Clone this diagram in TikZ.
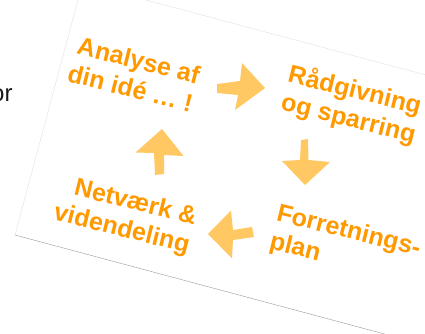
\documentclass[tikz,border=0pt]{standalone}
\usepackage{fontspec}
\setmainfont{Liberation Sans}
\definecolor{textorange}{HTML}{FF9900}
\definecolor{arrowfill}{HTML}{FFC863}
\tikzset{
	steptext/.style={text=textorange, font=\bfseries\fontsize{25}{29}\selectfont, rotate=-14, inner sep=0pt},
	cyclearrow/.style={fill=arrowfill},
}

\begin{document}
\begin{tikzpicture}[x=1pt,y=-1pt]
		\useasboundingbox (0,0) rectangle (425,333);
		\clip (0,0) rectangle (425,333);
		\node[anchor=base east, font=\fontsize{24}{28}\selectfont, text=black!90, inner sep=0pt] (or) at (12.7,101) {or};
		% the tilted card
		\coordinate (TL) at (82.5,-17);
		\coordinate (BL) at (15,235);
		\coordinate (BR) at (478.6,359.2);
		\coordinate (TR) at (546.1,107.2);
		\fill [white] (TL) -- (BL) -- (BR) -- (TR) -- cycle;
		\draw [black!12, line width=0.4pt] (TL) -- (BL);
		\draw [black!40, line width=0.4pt] (BL) -- (BR);
		\draw [black!12, line width=0.4pt] (TL) -- (TR);
		% the four steps
		\node[steptext, align=right] (analyse) at (134,74) {Analyse af\\din idé \dots\ !};
		\node[steptext, align=left] (raad) at (352,105) {Rådgivning\\og sparring};
		\node[steptext, align=left] (plan) at (345,246) {Forretnings-\\plan};
		\node[steptext, align=right] (netvaerk) at (125,216) {Netværk \&\\videndeling};
		% arrows between them
		\fill [cyclearrow] (217,84) -- (240,81) -- (242,63) -- (265,88) -- (235,110) -- (238,95) -- (217,93) -- cycle;
		\fill [cyclearrow] (301,140) -- (308,139) -- (308.5,160) -- (330,162) -- (305,185) -- (282,161) -- (300,160) -- cycle;
		\fill [cyclearrow] (208,234) -- (231,210.5) -- (233,230) -- (252,227) -- (254,237) -- (233,240) -- (232,258.5) -- cycle;
		\fill [cyclearrow] (162,129) -- (183.5,156) -- (164,155) -- (164,174) -- (155,175) -- (154,153) -- (135.5,152.5) -- cycle;
\end{tikzpicture}
\end{document}
